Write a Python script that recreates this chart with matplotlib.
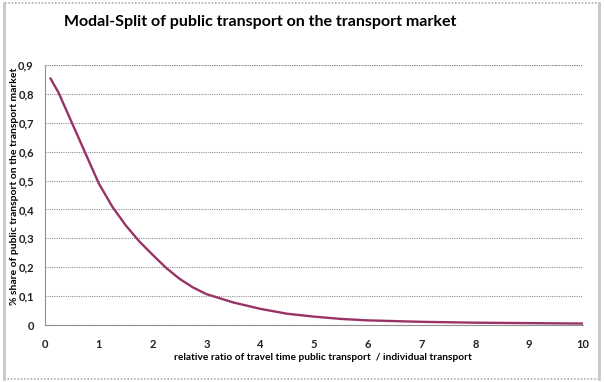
import matplotlib.pyplot as plt
from matplotlib.patches import Rectangle
from matplotlib.ticker import FuncFormatter

plt.rcParams["font.family"] = ["Lato", "DejaVu Sans"]

# ratio of travel time (public / individual) and modal share of public transport
ratio = [0.1, 0.25, 0.5, 0.75, 1.0, 1.25, 1.5, 1.75, 2.0, 2.25, 2.5, 2.75,
         3.0, 3.5, 4.0, 4.5, 5.0, 5.5, 6.0, 7.0, 8.0, 9.0, 10.0]
share = [0.854, 0.805, 0.70, 0.595, 0.49, 0.41, 0.345, 0.29, 0.243, 0.198, 0.16, 0.13,
         0.107, 0.078, 0.056, 0.039, 0.029, 0.021, 0.016, 0.011, 0.008, 0.0065, 0.005]
x_ticks = list(range(0, 11))
y_ticks = [i / 10 for i in range(0, 10)]

fig = plt.figure(figsize=(6.04, 3.82), dpi=100)
ax = fig.add_axes([45 / 604, 1 - 325 / 382, 538 / 604, 260 / 382])

ax.plot(ratio, share, color="#993366", lw=1.7, solid_capstyle="round", solid_joinstyle="round")

ax.set_xlim(0, 10)
ax.set_ylim(0, 0.9)
ax.set_xticks(x_ticks)
ax.set_yticks(y_ticks)
ax.yaxis.set_major_formatter(FuncFormatter(lambda v, p: "0" if v == 0 else f"{v:.1f}".replace(".", ",")))
ax.tick_params(length=0, labelsize=8, pad=10)
for lbl in ax.get_xticklabels() + ax.get_yticklabels():
    lbl.set_fontweight("bold")
    lbl.set_color("#222222")
ax.tick_params(axis="y", pad=8)

ax.grid(axis="y", color="#909090", ls=(0, (1, 1)), lw=0.8)
ax.grid(axis="x", visible=False)
ax.axhline(0.9, color="#909090", ls=(0, (1, 1)), lw=0.8)
for side in ["top", "right"]:
    ax.spines[side].set_visible(False)
for side in ["left", "bottom"]:
    ax.spines[side].set_color("#909090")
    ax.spines[side].set_linestyle((0, (1, 1)))
    ax.spines[side].set_linewidth(0.8)

fig.text(260 / 604, 1 - 22 / 382, "Modal-Split of public transport on the transport market",
         ha="center", va="center", fontsize=11.5, fontweight="bold")
fig.text(323 / 604, 1 - 357 / 382, "relative ratio of travel time public transport  / individual transport",
         ha="center", va="center", fontsize=7.3, fontweight="bold")
fig.text(15 / 604, 1 - 186 / 382, "% share of public transport on the transport market",
         ha="center", va="center", rotation=90, fontsize=7.5, fontweight="bold")

# chart border
fig.add_artist(Rectangle((0.006, 0.008), 0.986, 0.984, transform=fig.transFigure,
                         fill=False, ec="#b0b0b0", lw=1.2, ls=(0, (1, 1))))
fig.add_artist(plt.Line2D([0.006, 0.006], [0.008, 0.992], transform=fig.transFigure, color="#c8c8c8", lw=2))
fig.add_artist(plt.Line2D([0.992, 0.992], [0.008, 0.992], transform=fig.transFigure, color="#c8c8c8", lw=2))

fig.savefig("out.png", dpi=100)
